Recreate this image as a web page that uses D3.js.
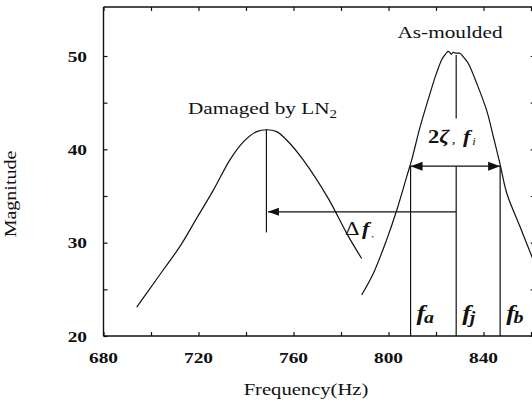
<!DOCTYPE html>
<html><head><meta charset="utf-8">
<script src="https://cdn.jsdelivr.net/npm/d3@7"></script>
<style>
html,body{margin:0;padding:0;background:#fff;}
svg{display:block;}
text{font-family:"Liberation Serif","Times New Roman",serif;fill:#111;}
</style></head>
<body>
<svg id="chart" width="532" height="409"></svg>
<script>
// ---- data ----
const xTickValues = [680, 720, 760, 800, 840];
const xMinorTicks = [680, 700, 720, 740, 760, 780, 800, 820, 840, 860];
const yTickValues = [20, 30, 40, 50];
const yMinorTicks = [20, 25, 30, 35, 40, 45, 50];

const damagedFreq = [694.0, 698.2, 705.2, 712.2, 719.2, 726.2, 733.3, 738.9, 744.5, 748.7, 752.9, 757.1, 764.0, 774.5, 782.4, 788.7];
const damagedMag  = [23.1, 24.6, 27.1, 29.6, 32.6, 35.6, 38.9, 40.8, 41.9, 42.1, 41.9, 41.0, 38.9, 34.8, 31.0, 28.3];

const mouldedFreq = [788.7, 793.6, 799.2, 803.5, 807.7, 809.8, 813.3, 817.5, 820.0, 822.4, 824.0, 825.2, 826.5, 827.2, 828.5, 830.1, 831.5, 833.6, 837.1, 841.3, 844.1, 846.9, 849.8, 855.4, 860.4, 862.0];
const mouldedMag  = [24.4, 26.7, 30.3, 33.5, 37.1, 38.9, 42.4, 46.0, 48.0, 49.6, 50.2, 50.5, 50.2, 50.4, 50.3, 50.3, 49.9, 49.2, 47.1, 44.2, 41.4, 38.5, 35.3, 31.7, 28.5, 27.5];

const fDamagedPeak = 748.6;   // damaged peak frequency
const damagedPeakSpan = [42.1, 31.1];
const fa = 809.3, fj = 828.5, fb = 847.0;
const halfPowerMag = 38.2;    // level of 2ζf arrow
const fjUpperSpan = [50.1, 43.3];
const deltaFMag = 33.3;       // level of Δf arrow

// ---- layout ----
const svg = d3.select("#chart");
const x = d3.scaleLinear().domain([680, 840]).range([103.5, 483.5]);
const y = d3.scaleLinear().domain([20, 50]).range([336, 56]);
const xMax = 862, yMax = 55.25;
const SX = 1.25; // horizontal font stretch

const ink = "#111";

// frame
svg.append("line").attr("x1", x(680)).attr("x2", x(680)).attr("y1", y(20)).attr("y2", y(yMax)).attr("stroke", ink).attr("stroke-width", 1.4);
svg.append("line").attr("x1", x(680)).attr("x2", x(xMax)).attr("y1", y(20)).attr("y2", y(20)).attr("stroke", ink).attr("stroke-width", 1.4);
svg.append("line").attr("x1", x(680)).attr("x2", x(xMax)).attr("y1", y(yMax)).attr("y2", y(yMax)).attr("stroke", ink).attr("stroke-width", 1.4);
svg.append("line").attr("x1", x(xMax)).attr("x2", x(xMax)).attr("y1", y(20)).attr("y2", y(yMax)).attr("stroke", ink).attr("stroke-width", 1.4);

// axes via d3 axis generators (inward ticks)
const bottomAxis = d3.axisTop(x).tickValues(xMinorTicks).tickSize(4).tickFormat("");
svg.append("g").attr("transform", `translate(0,${y(20)})`).call(bottomAxis)
  .call(g => g.select(".domain").remove()).selectAll("line").attr("stroke", ink).attr("stroke-width", 1.2);
const topAxis = d3.axisBottom(x).tickValues(xMinorTicks).tickSize(4).tickFormat("");
svg.append("g").attr("transform", `translate(0,${y(yMax)})`).call(topAxis)
  .call(g => g.select(".domain").remove()).selectAll("line").attr("stroke", ink).attr("stroke-width", 1.2);
const leftAxis = d3.axisRight(y).tickValues(yMinorTicks).tickSize(4).tickFormat("");
svg.append("g").attr("transform", `translate(${x(680)},0)`).call(leftAxis)
  .call(g => g.select(".domain").remove()).selectAll("line").attr("stroke", ink).attr("stroke-width", 1.2);
const rightAxis = d3.axisLeft(y).tickValues(yMinorTicks).tickSize(5).tickFormat("");
svg.append("g").attr("transform", `translate(${x(xMax)},0)`).call(rightAxis)
  .call(g => g.select(".domain").remove()).selectAll("line").attr("stroke", ink).attr("stroke-width", 1.2);

// text helper with horizontal stretch
function label(px, py, anchor, size, weight, style, parts) {
  const g = svg.append("g").attr("transform", `translate(${px},${py}) scale(${SX},1)`);
  const t = g.append("text").attr("text-anchor", anchor).attr("font-size", size)
    .attr("font-weight", weight).attr("font-style", style);
  if (typeof parts === "string") t.text(parts);
  else parts.forEach(p => {
    const ts = t.append("tspan").text(p.t);
    if (p.size) ts.attr("font-size", p.size);
    if (p.dy) ts.attr("dy", p.dy);
    if (p.dx) ts.attr("dx", p.dx);
    if (p.style) ts.attr("font-style", p.style);
    if (p.weight) ts.attr("font-weight", p.weight);
  });
  return t;
}

// tick labels
xTickValues.forEach(v => label(x(v), 363, "middle", 15.5, "bold", "normal", String(v)));
yTickValues.forEach(v => label(87, y(v) + 5.5, "end", 15.5, "bold", "normal", String(v)));

// axis titles
label(306, 395, "middle", 16.5, "normal", "normal", "Frequency(Hz)");
svg.append("g").attr("transform", `translate(15.5,194) rotate(-90) scale(${SX},1)`)
  .append("text").attr("text-anchor", "middle").attr("font-size", 16).text("Magnitude");

// curves
const line = d3.line().x(d => x(d[0])).y(d => y(d[1])).curve(d3.curveCatmullRom.alpha(0.5));
svg.append("path").datum(damagedFreq.map((f, i) => [f, damagedMag[i]]))
  .attr("d", line).attr("fill", "none").attr("stroke", ink).attr("stroke-width", 1.2);
svg.append("path").datum(mouldedFreq.map((f, i) => [f, mouldedMag[i]]))
  .attr("d", line).attr("fill", "none").attr("stroke", ink).attr("stroke-width", 1.2);

// annotation lines
function vline(f, m1, m2) {
  svg.append("line").attr("x1", x(f)).attr("x2", x(f)).attr("y1", y(m1)).attr("y2", y(m2))
    .attr("stroke", ink).attr("stroke-width", 1.2);
}
vline(fDamagedPeak, damagedPeakSpan[0], damagedPeakSpan[1]);
vline(fj, fjUpperSpan[0], fjUpperSpan[1]);
vline(fa, halfPowerMag, 20);
vline(fj, halfPowerMag, 20);
vline(fb, halfPowerMag, 20);

function arrowHead(tipX, tipY, dir, len, half) {
  svg.append("path").attr("d", `M${tipX},${tipY} L${tipX + dir * len},${tipY - half} L${tipX + dir * len},${tipY + half} Z`)
    .attr("fill", ink);
}
// 2ζf arrow
svg.append("line").attr("x1", x(fa)).attr("x2", x(fb)).attr("y1", y(halfPowerMag)).attr("y2", y(halfPowerMag))
  .attr("stroke", ink).attr("stroke-width", 1.3);
arrowHead(x(fa), y(halfPowerMag), 1, 12, 4.5);
arrowHead(x(fb), y(halfPowerMag), -1, 12, 4.5);
// Δf arrow
svg.append("line").attr("x1", x(fDamagedPeak) + 1.5).attr("x2", x(fj)).attr("y1", y(deltaFMag)).attr("y2", y(deltaFMag))
  .attr("stroke", ink).attr("stroke-width", 1.1);
arrowHead(x(fDamagedPeak) + 1.5, y(deltaFMag), 1, 11, 4);

// labels
label(188, 114, "start", 17, "normal", "normal", [{t: "Damaged by LN"}, {t: "2", size: 12, dy: 4}]);
label(450, 38, "middle", 17, "normal", "normal", "As-moulded");

label(428, 143, "start", 18, "bold", "italic", [
  {t: "2", style: "normal"}, {t: "ζ"}, {t: ",", size: 12, dx: 2, weight: "normal"},
  {t: "f", dx: 6}, {t: "i", size: 10, dy: 2, dx: 1.5, weight: "normal"}
]);
label(345, 235, "start", 18, "normal", "normal", [
  {t: "Δ"}, {t: "f", dx: 2, style: "italic", weight: "bold"}, {t: ",", size: 9, dy: 2, dx: 1.5}
]);

label(x(fa) + 6, 320, "start", 21, "bold", "italic", [{t: "f"}, {t: "a", size: 16, dy: 3, dx: -1}]);
label(x(fj) + 6, 320, "start", 21, "bold", "italic", [{t: "f"}, {t: "j", size: 16, dy: 3, dx: -1}]);
label(x(fb) + 6, 320, "start", 21, "bold", "italic", [{t: "f"}, {t: "b", size: 16, dy: 3, dx: -1}]);
</script>
</body></html>
